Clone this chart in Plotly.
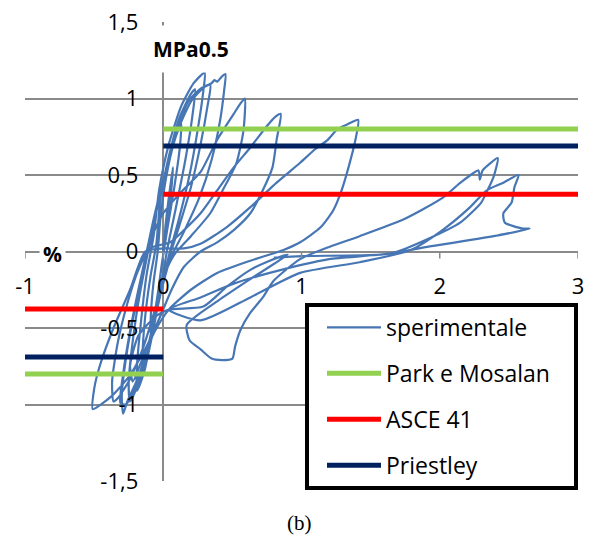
import plotly.graph_objects as go

cycle_1 = [(0.00, 0.00), (0.02, 0.20), (0.05, 0.42), (0.07, 0.55), (0.06, 0.42), (0.03, 0.18),
           (0.00, -0.02), (-0.03, -0.22), (-0.07, -0.45), (-0.09, -0.55), (-0.09, -0.42),
           (-0.07, -0.20), (-0.04, 0.00)]
cycle_2 = [(-0.02, 0.22), (0.02, 0.48), (0.08, 0.72), (0.13, 0.84), (0.12, 0.68), (0.08, 0.42),
           (0.03, 0.15), (-0.01, -0.08), (-0.05, -0.35), (-0.10, -0.62), (-0.14, -0.80),
           (-0.15, -0.70), (-0.13, -0.42), (-0.09, -0.15), (-0.05, 0.05)]
cycle_3 = [(-0.02, 0.35), (0.04, 0.62), (0.12, 0.88), (0.20, 1.03), (0.23, 1.06), (0.21, 0.88),
           (0.16, 0.60), (0.09, 0.28), (0.03, 0.02), (-0.02, -0.25), (-0.08, -0.55),
           (-0.15, -0.82), (-0.19, -0.91), (-0.19, -0.75), (-0.16, -0.45), (-0.12, -0.15),
           (-0.07, 0.10)]
cycle_4 = [(-0.03, 0.40), (0.04, 0.70), (0.13, 0.95), (0.22, 1.10), (0.30, 1.17), (0.29, 1.05),
           (0.25, 0.80), (0.19, 0.50), (0.11, 0.20), (0.04, -0.03), (-0.02, -0.28),
           (-0.09, -0.56), (-0.17, -0.84), (-0.24, -0.98), (-0.25, -0.86), (-0.22, -0.58),
           (-0.17, -0.28), (-0.11, 0.00), (-0.06, 0.22)]
cycle_5 = [(0.00, 0.45), (0.08, 0.75), (0.18, 0.98), (0.28, 1.07), (0.34, 1.09), (0.32, 0.95),
           (0.27, 0.70), (0.20, 0.42), (0.11, 0.15), (0.04, -0.05), (-0.03, -0.30),
           (-0.10, -0.58), (-0.19, -0.85), (-0.27, -1.00), (-0.31, -0.99), (-0.29, -0.80),
           (-0.24, -0.52), (-0.18, -0.25), (-0.12, 0.00), (-0.06, 0.25)]
cycle_6 = [(0.01, 0.50), (0.10, 0.78), (0.20, 0.98), (0.29, 1.07), (0.35, 1.10), (0.37, 1.12),
           (0.39, 1.11), (0.42, 1.14), (0.45, 1.16), (0.44, 1.05), (0.41, 0.85), (0.35, 0.60),
           (0.26, 0.35), (0.15, 0.13), (0.05, -0.05), (-0.02, -0.28), (-0.09, -0.55),
           (-0.18, -0.82), (-0.26, -0.98), (-0.29, -1.06), (-0.30, -0.95), (-0.27, -0.70),
           (-0.21, -0.40), (-0.14, -0.12), (-0.08, 0.10)]
cycle_7 = [(0.00, 0.25), (0.12, 0.38), (0.27, 0.52), (0.39, 0.73), (0.51, 0.90), (0.56, 0.97),
           (0.59, 1.00), (0.58, 0.79), (0.53, 0.58), (0.43, 0.40), (0.34, 0.25), (0.20, 0.10),
           (0.08, -0.02), (0.01, -0.15), (-0.06, -0.38), (-0.15, -0.64), (-0.25, -0.85),
           (-0.33, -0.96), (-0.36, -0.98), (-0.37, -0.85), (-0.33, -0.60), (-0.26, -0.34),
           (-0.18, -0.12), (-0.10, 0.02)]
cycle_8 = [(0.05, 0.06), (0.15, 0.14), (0.27, 0.25), (0.39, 0.40), (0.51, 0.55), (0.63, 0.68),
           (0.75, 0.82), (0.81, 0.88), (0.85, 0.90), (0.82, 0.73), (0.79, 0.55), (0.72, 0.40),
           (0.63, 0.25), (0.51, 0.14), (0.39, 0.06), (0.27, 0.00), (0.15, -0.10), (0.06, -0.25),
           (-0.02, -0.42), (-0.12, -0.62), (-0.25, -0.82), (-0.38, -0.95), (-0.51, -1.03),
           (-0.50, -0.90), (-0.46, -0.75), (-0.36, -0.50), (-0.24, -0.25), (-0.13, 0.00),
           (0.00, 0.02)]
cycle_9 = [(0.15, 0.02), (0.27, 0.05), (0.46, 0.16), (0.63, 0.29), (0.82, 0.45), (0.99, 0.58),
           (1.10, 0.67), (1.19, 0.73), (1.26, 0.80), (1.33, 0.83), (1.41, 0.86), (1.39, 0.73),
           (1.34, 0.55), (1.29, 0.40), (1.23, 0.27), (1.14, 0.16), (0.99, 0.06), (0.87, 0.01),
           (0.63, -0.06), (0.39, -0.14), (0.20, -0.25), (0.04, -0.38), (-0.06, -0.52),
           (-0.15, -0.70), (-0.22, -0.85), (-0.24, -0.75), (-0.18, -0.55), (-0.05, -0.42),
           (0.04, -0.38)]
cycle_10 = [(0.29, -0.36), (0.46, -0.23), (0.63, -0.12), (0.77, -0.06), (0.90, -0.02),
            (0.63, -0.18), (0.40, -0.32), (0.17, -0.48), (0.19, -0.58), (0.27, -0.64),
            (0.35, -0.70), (0.43, -0.71), (0.50, -0.70), (0.52, -0.62), (0.56, -0.51),
            (0.63, -0.40), (0.72, -0.30), (0.80, -0.19), (0.99, -0.05), (1.20, 0.03),
            (1.42, 0.10), (1.74, 0.21), (2.02, 0.35), (2.15, 0.45), (2.28, 0.53), (2.29, 0.47),
            (2.31, 0.53), (2.42, 0.61), (2.39, 0.49), (2.34, 0.39), (2.30, 0.32), (2.15, 0.19),
            (1.91, 0.08), (1.66, -0.01), (1.20, -0.05), (0.77, -0.14), (0.51, -0.21),
            (0.27, -0.30), (0.04, -0.38)]
cycle_11 = [(0.27, -0.45), (0.63, -0.30), (0.99, -0.14), (1.42, -0.07), (1.79, 0.01),
            (2.02, 0.14), (2.22, 0.29), (2.34, 0.40), (2.46, 0.45), (2.57, 0.50), (2.54, 0.42),
            (2.52, 0.32), (2.46, 0.25), (2.47, 0.19), (2.60, 0.15), (2.65, 0.15), (2.39, 0.10),
            (1.91, 0.03), (1.57, -0.02), (1.00, -0.03), (0.80, -0.04)]

# ---- capacity levels (MPa^0.5) ----
park_val = 0.80
asce_val = 0.375
priestley_val = 0.69

x_ticks = [-1, 0, 1, 2, 3]
x_labels = ["-1", "0", "1", "2", "3"]
y_ticks = [-1.5, -1, -0.5, 0, 0.5, 1, 1.5]
y_labels = ["-1,5", "-1", "-0,5", "0", "0,5", "1", "1,5"]

FONT = "'Open Sans', Lato, sans-serif"
GRID = "#8a8a8a"

cycles = [cycle_1, cycle_2, cycle_3, cycle_4, cycle_5, cycle_6, cycle_7, cycle_8,
          cycle_9, cycle_10, cycle_11]
exp_x = [p[0] for c in cycles for p in c]
exp_y = [p[1] for c in cycles for p in c]


def step_line(v):
    # positive value from 0 to 3, negative value from -1 to 0
    return [0, 3, None, -1, 0], [v, v, None, -v, -v]


fig = go.Figure()
fig.add_trace(go.Scatter(x=exp_x, y=exp_y, mode="lines", name="sperimentale",
                         legendgroup="a",
                         line=dict(color="#4776b4", width=2.2, shape="spline",
                                   smoothing=0.6)))
for nm, v, col, g in [("Park e Mosalan", park_val, "#92d050", "b"),
                      ("ASCE 41", asce_val, "#ff0000", "c"),
                      ("Priestley", priestley_val, "#002060", "d")]:
    xs, ys = step_line(v)
    fig.add_trace(go.Scatter(x=xs, y=ys, mode="lines", name=nm, legendgroup=g,
                             line=dict(color=col, width=5)))

L, R, T, B = 25, 12, 22, 57
PW, PH = 590 - L - R, 538 - T - B


def px(xp):
    return (xp - L) / PW


def py(yp):
    return (538 - B - yp) / PH


shapes = []
# x tick marks hanging below the y=0 axis line
for t in x_ticks:
    shapes.append(dict(type="line", xref="x", yref="y", x0=t, x1=t,
                       ysizemode="pixel", yanchor=0, y0=0, y1=-7,
                       line=dict(color=GRID, width=1.5)))
# legend frame
shapes.append(dict(type="rect", xref="paper", yref="paper", layer="above",
                   x0=px(307), x1=px(576), y0=py(305), y1=py(488),
                   fillcolor="white", line=dict(color="black", width=4)))

fig.update_layout(
    width=590, height=538,
    margin=dict(l=L, r=R, t=T, b=B, autoexpand=False),
    paper_bgcolor="white", plot_bgcolor="white",
    font=dict(family=FONT, size=22, color="black"),
    xaxis=dict(range=[-1, 3], showgrid=False, zeroline=True, zerolinecolor=GRID,
               zerolinewidth=1.5, tickvals=x_ticks, ticktext=x_labels,
               anchor="free", position=0.5, side="bottom", ticks="",
               ticklabelstandoff=19, showline=False, automargin=False),
    yaxis=dict(range=[-1.5, 1.5], showgrid=True, gridcolor=GRID, gridwidth=1.5,
               zeroline=True, zerolinecolor=GRID, zerolinewidth=1.5,
               tickvals=y_ticks, ticktext=y_labels,
               anchor="free", position=0.25, side="left", ticks="",
               ticklabelstandoff=25, showline=False, automargin=False),
    showlegend=True,
    legend=dict(x=px(322), y=py(306), xanchor="left", yanchor="top",
                bgcolor="rgba(0,0,0,0)", borderwidth=0,
                font=dict(family=FONT, size=23, color="black"),
                tracegroupgap=13, traceorder="grouped", itemwidth=54),
    shapes=shapes,
    annotations=[
        dict(text="<b>MPa0.5</b>", xref="paper", yref="paper",
             x=px(191), y=py(49), xanchor="center", yanchor="middle", showarrow=False,
             font=dict(family=FONT, size=21), bgcolor="white", borderpad=9),
        dict(text="<b>%</b>", xref="paper", yref="paper",
             x=px(52), y=py(254), xanchor="center", yanchor="middle", showarrow=False,
             font=dict(family=FONT, size=21), bgcolor="white", borderpad=3),
        dict(text="(b)", xref="paper", yref="paper",
             x=px(299), y=py(523), xanchor="center", yanchor="middle", showarrow=False,
             font=dict(family="'Liberation Serif', serif", size=21)),
    ],
)

fig.write_html("out.html",
               config={"displayModeBar": False},
               post_script="document.body.style.margin='0';"
                           "document.body.style.overflow='hidden';")
